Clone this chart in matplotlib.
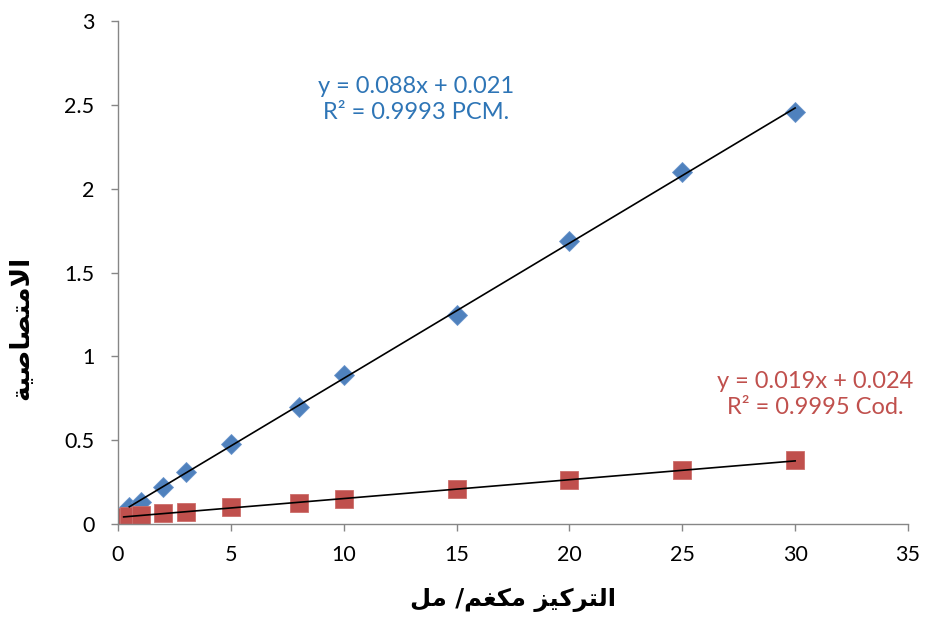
import numpy as np
import matplotlib
matplotlib.use("Agg")
import matplotlib.pyplot as plt

# Data
pcm_x = [0.5, 1, 2, 3, 5, 8, 10, 15, 20, 25, 30]
pcm_y = [0.10, 0.13, 0.22, 0.31, 0.477, 0.70, 0.89, 1.246, 1.69, 2.10, 2.46]
cod_x = [0.25, 0.5, 1, 2, 3, 5, 8, 10, 15, 20, 25, 30]
cod_y = [0.04, 0.045, 0.055, 0.066, 0.07, 0.10, 0.125, 0.15, 0.21, 0.26, 0.32, 0.38]
pcm_label = "y = 0.088x + 0.021\nR² = 0.9993 PCM."
cod_label = "y = 0.019x + 0.024\nR² = 0.9995 Cod."
x_ticks = [0, 5, 10, 15, 20, 25, 30, 35]
y_ticks = [0, 0.5, 1, 1.5, 2, 2.5, 3]
y_tick_labels = ["0", "0.5", "1", "1.5", "2", "2.5", "3"]
# Arabic labels in visual (presentation-form) order
xlabel_text = "\uFEDE\uFEE3 /\uFEE2\uFED0\uFEDC\uFEE3 \uFEB0\uFEF4\uFEDB\uFEAE\uFE98\uFEDF\uFE8D"  # التركيز مكغم/ مل
ylabel_text = "\uFE94\uFEF4\uFEBB\uFE8E\uFEBC\uFE98\uFEE3\uFEFB\uFE8D"  # الامتصاصية

blue = "#4F81BD"
red = "#C0504D"
blue_txt = "#2E75B6"
grey = "#868686"

fig = plt.figure(figsize=(9.25, 6.2), dpi=100)
ax = fig.add_axes([0.1276, 0.1548, 0.8540, 0.8112])

# trendlines
for xs, ys in ((pcm_x, pcm_y), (cod_x, cod_y)):
    m, b = np.polyfit(xs, ys, 1)
    xx = np.array([min(xs), max(xs)])
    ax.plot(xx, m * xx + b, color="black", lw=1.2, zorder=3)

ax.plot(pcm_x, pcm_y, linestyle="none", marker="D", markersize=10,
        color=blue, markeredgecolor="#6A95CC", markeredgewidth=0.6, zorder=2)
ax.plot(cod_x, cod_y, linestyle="none", marker="s", markersize=13.5,
        color=red, markeredgecolor="#CC6E6B", markeredgewidth=0.6, zorder=2)

ax.set_xlim(0, 35)
ax.set_ylim(0, 3)
ax.set_xticks(x_ticks)
ax.set_yticks(y_ticks)
ax.set_yticklabels(y_tick_labels)
for s in ("top", "right"):
    ax.spines[s].set_visible(False)
for s in ("left", "bottom"):
    ax.spines[s].set_color(grey)
    ax.spines[s].set_linewidth(1.0)
ax.tick_params(direction="out", length=5, width=1.0, color=grey,
               labelsize=15.5, labelcolor="black")
ax.tick_params(axis="y", pad=12)
ax.tick_params(axis="x", pad=10)
for lab in ax.get_xticklabels() + ax.get_yticklabels():
    lab.set_fontfamily("Lato")

ax.text(13.2, 2.53, pcm_label, color=blue_txt, fontsize=17, family="Lato",
        ha="center", va="center", linespacing=1.3)
ax.text(30.9, 0.77, cod_label, color=red, fontsize=17, family="Lato",
        ha="center", va="center", linespacing=1.3)

ax.set_xlabel(xlabel_text, fontsize=17.5, fontweight="bold", family="DejaVu Sans",
              va="center")
ax.xaxis.set_label_coords(0.5, -0.151)
ax.set_ylabel(ylabel_text, fontsize=19, fontweight="bold", family="DejaVu Sans",
              va="center")
ax.yaxis.set_label_coords(-0.123, 0.39)

fig.savefig("out.png", dpi=100)
